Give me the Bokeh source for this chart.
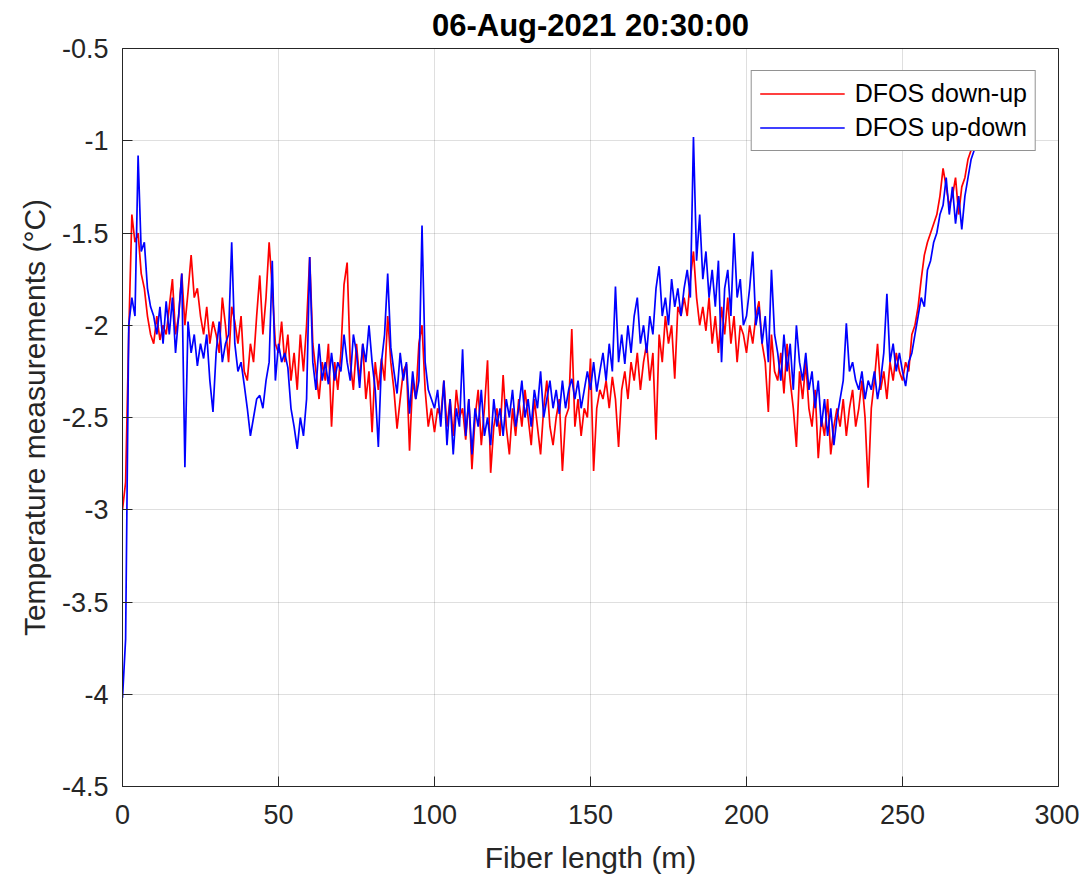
from bokeh.plotting import figure
from bokeh.embed import file_html
from bokeh.resources import INLINE
from bokeh.models import FixedTicker, Range1d, ColumnDataSource

# ---------------- data ----------------
fiber_length_m = list(range(0, 274))

dfos_down_up = [
    -3.00, -2.85, -2.05, -1.40, -1.55, -1.50, -1.72, -1.80, -1.95, -2.05,
    -2.10, -1.95, -2.08, -2.00, -2.05, -1.90, -1.75, -2.05, -1.95, -1.72,
    -2.00, -1.82, -1.62, -1.85, -1.80, -1.95, -2.05, -1.90, -2.10, -1.98,
    -2.05, -2.15, -1.85, -2.00, -2.20, -1.90, -1.98, -2.10, -1.95, -2.25,
    -2.30, -2.10, -2.20, -1.95, -1.73, -2.05, -1.85, -1.55, -1.80, -2.10,
    -2.15, -1.98, -2.20, -2.05, -2.30, -2.15, -2.35, -2.05, -2.25, -2.00,
    -1.63, -2.10, -2.25, -2.40, -2.20, -2.30, -2.10, -2.55, -2.20, -2.35,
    -2.15, -1.78, -1.66, -2.20, -2.35, -2.10, -2.30, -2.10, -2.40, -2.25,
    -2.58, -2.20, -2.35, -2.18, -2.30, -1.95, -2.20, -2.35, -2.56, -2.40,
    -2.25, -2.21, -2.68, -2.30, -2.40, -2.10, -2.00, -2.35, -2.55, -2.45,
    -2.58, -2.45, -2.50, -2.30, -2.55, -2.40, -2.60, -2.35, -2.50, -2.45,
    -2.62, -2.40, -2.78, -2.50, -2.35, -2.65, -2.45, -2.19, -2.80, -2.55,
    -2.45, -2.60, -2.27, -2.55, -2.70, -2.45, -2.60, -2.40, -2.55, -2.35,
    -2.50, -2.65, -2.40, -2.55, -2.70, -2.45, -2.30, -2.55, -2.65, -2.50,
    -2.40, -2.79, -2.50, -2.45, -2.02, -2.55, -2.40, -2.60, -2.45, -2.50,
    -2.18, -2.79, -2.45, -2.35, -2.40, -2.30, -2.45, -2.28, -2.40, -2.66,
    -2.35, -2.25, -2.40, -2.20, -2.30, -2.15, -2.35, -2.20, -2.10, -2.30,
    -2.15, -2.62, -2.05, -2.20, -1.95, -2.10, -2.00, -2.29, -1.90, -1.95,
    -1.85, -1.95, -1.75, -1.60, -1.85, -2.00, -1.90, -2.03, -1.85, -2.10,
    -1.95, -2.15, -1.90, -2.05, -1.85, -2.10, -1.95, -2.20, -2.00, -2.05,
    -2.15, -2.00, -2.10, -1.95, -1.87, -2.10, -2.20, -2.47, -2.05, -2.25,
    -2.30, -2.15, -2.37, -2.10, -2.30, -2.45, -2.66, -2.25, -2.40, -2.20,
    -2.45, -2.55, -2.35, -2.72, -2.50, -2.60, -2.40, -2.70, -2.55, -2.45,
    -2.55, -2.40, -2.60, -2.45, -2.35, -2.55, -2.45, -2.30, -2.50, -2.88,
    -2.45, -2.30, -2.10, -2.35, -2.25, -2.40, -2.20, -2.30, -2.15, -2.25,
    -2.30, -2.20, -2.25, -2.05, -2.00, -1.90, -1.75, -1.62, -1.55, -1.50,
    -1.45, -1.40, -1.30, -1.15, -1.25, -1.35, -1.30, -1.20, -1.40, -1.25,
    -1.20, -1.10, -1.05, -1.00,
]

dfos_up_down = [
    -4.02, -3.70, -2.00, -1.85, -1.95, -1.08, -1.60, -1.55, -1.80, -1.90,
    -1.95, -2.05, -1.90, -2.10, -1.87, -2.05, -1.85, -2.15, -1.95, -1.72,
    -2.77, -1.98, -2.15, -2.05, -2.22, -2.10, -2.18, -2.05, -2.30, -2.47,
    -2.15, -1.98, -2.20, -2.10, -2.05, -1.55, -2.10, -2.25, -2.20, -2.32,
    -2.45, -2.60, -2.50, -2.40, -2.38, -2.45, -2.30, -2.20, -1.65, -2.30,
    -2.10, -2.20, -2.15, -2.23, -2.45, -2.55, -2.67, -2.50, -2.60, -2.40,
    -1.63, -2.20, -2.35, -2.10, -2.30, -2.20, -2.32, -2.15, -2.30, -2.20,
    -2.25, -2.05, -2.20, -2.30, -2.05, -2.15, -2.34, -2.10, -2.20, -2.00,
    -2.20, -2.35, -2.66, -2.20, -2.05, -1.72, -2.12, -2.25, -2.37, -2.15,
    -2.30, -2.20, -2.48, -2.25, -2.40, -2.30, -1.46, -2.20, -2.35, -2.40,
    -2.45, -2.35, -2.55, -2.30, -2.65, -2.40, -2.70, -2.45, -2.55, -2.13,
    -2.60, -2.40, -2.70, -2.45, -2.55, -2.35, -2.60, -2.50, -2.65, -2.40,
    -2.55, -2.45, -2.60, -2.40, -2.50, -2.35, -2.55, -2.45, -2.30, -2.50,
    -2.40, -2.55, -2.35, -2.45, -2.25, -2.50, -2.40, -2.30, -2.45, -2.35,
    -2.48, -2.30, -2.45, -2.35, -2.29, -2.40, -2.30, -2.45, -2.35, -2.25,
    -2.35, -2.20, -2.36, -2.25, -2.15, -2.30, -2.10, -2.25, -1.79, -2.20,
    -2.05, -2.21, -2.00, -2.15, -1.95, -1.85, -2.10, -2.00, -2.15, -1.95,
    -2.05, -1.80, -1.68, -1.95, -1.85, -2.00, -1.75, -1.90, -1.80, -1.95,
    -1.80, -1.70, -1.85, -0.98, -1.65, -1.40, -1.75, -1.60, -1.85, -1.70,
    -1.90, -1.65, -2.20, -1.80, -1.70, -1.95, -1.50, -1.85, -1.75, -2.00,
    -1.95, -1.80, -1.60, -2.00, -1.90, -2.10, -1.95, -2.20, -1.70, -2.05,
    -2.15, -2.30, -2.05, -2.25, -2.10, -2.35, -2.00, -2.20, -2.30, -2.15,
    -2.35, -2.25, -2.45, -2.30, -2.55, -2.40, -2.60, -2.45, -2.65, -2.50,
    -2.40, -2.30, -1.99, -2.25, -2.20, -2.30, -2.35, -2.25, -2.40, -2.30,
    -2.35, -2.25, -2.40, -2.30, -2.15, -1.83, -2.20, -2.10, -2.25, -2.15,
    -2.25, -2.33, -2.20, -2.15, -2.05, -1.95, -1.85, -1.90, -1.70, -1.65,
    -1.55, -1.50, -1.40, -1.35, -1.20, -1.40, -1.25, -1.45, -1.30, -1.48,
    -1.30, -1.20, -1.10, -1.05,
]

series_names = ["DFOS down-up", "DFOS up-down"]
x_ticks = [0, 50, 100, 150, 200, 250, 300]
y_ticks = [-4.5, -4, -3.5, -3, -2.5, -2, -1.5, -1, -0.5]
y_tick_labels = ["-4.5", "-4", "-3.5", "-3", "-2.5", "-2", "-1.5", "-1", "-0.5"]

# ---------------- figure ----------------
FONT = "Liberation Sans"
AX = "#262626"

p = figure(
    width=1079, height=880,
    x_range=Range1d(0, 300), y_range=Range1d(-4.5, -0.5),
    output_backend="svg", toolbar_location=None,
    title="06-Aug-2021 20:30:00",
    min_border_left=122, min_border_right=21, min_border_top=46, min_border_bottom=94,
)
p.background_fill_color = "white"
p.border_fill_color = "white"
p.outline_line_color = AX
p.outline_line_width = 1

p.title.align = "center"
p.title.text_font = FONT
p.title.text_font_size = "31px"
p.title.text_font_style = "bold"
p.title.text_color = "black"
p.title.standoff = 11
p.title.offset = 0

src = ColumnDataSource(dict(x=fiber_length_m, r=dfos_down_up, b=dfos_up_down))
p.line("x", "r", source=src, line_color="#ff0000", line_width=1.7, legend_label=series_names[0])
p.line("x", "b", source=src, line_color="#0000ff", line_width=1.7, legend_label=series_names[1])

# axes
p.xaxis.ticker = FixedTicker(ticks=x_ticks)
p.yaxis.ticker = FixedTicker(ticks=y_ticks)
p.yaxis.major_label_overrides = {v: s for v, s in zip(y_ticks, y_tick_labels)}
p.xaxis.axis_label = "Fiber length (m)"
p.yaxis.axis_label = "Temperature measurements (\u00b0C)"
for ax in (p.xaxis[0], p.yaxis[0]):
    ax.axis_line_color = AX
    ax.major_tick_line_color = AX
    ax.major_tick_in = 10
    ax.major_tick_out = 0
    ax.minor_tick_line_color = None
    ax.major_label_text_font = FONT
    ax.major_label_text_font_size = "27px"
    ax.major_label_text_color = AX
    ax.axis_label_text_font = FONT
    ax.axis_label_text_font_size = "30px"
    ax.axis_label_text_font_style = "normal"
    ax.axis_label_text_color = AX
p.xaxis.major_label_standoff = 18
p.xaxis.axis_label_standoff = 14
p.yaxis.major_label_standoff = 14
p.yaxis.axis_label_standoff = 8

# grid
p.xgrid.ticker = FixedTicker(ticks=x_ticks)
p.ygrid.ticker = FixedTicker(ticks=y_ticks)
for g in (p.xgrid[0], p.ygrid[0]):
    g.grid_line_color = AX
    g.grid_line_alpha = 0.15
    g.grid_line_width = 1

# legend
lg = p.legend[0]
lg.location = "top_right"
lg.margin = 22
lg.padding = 8
lg.spacing = 5
lg.glyph_width = 85
lg.glyph_height = 29
lg.label_standoff = 10
lg.label_text_font = FONT
lg.label_text_font_size = "25px"
lg.label_text_color = "black"
lg.border_line_color = AX
lg.border_line_width = 1
lg.background_fill_color = "white"
lg.background_fill_alpha = 1

open("out.html", "w").write(file_html(p, INLINE))
